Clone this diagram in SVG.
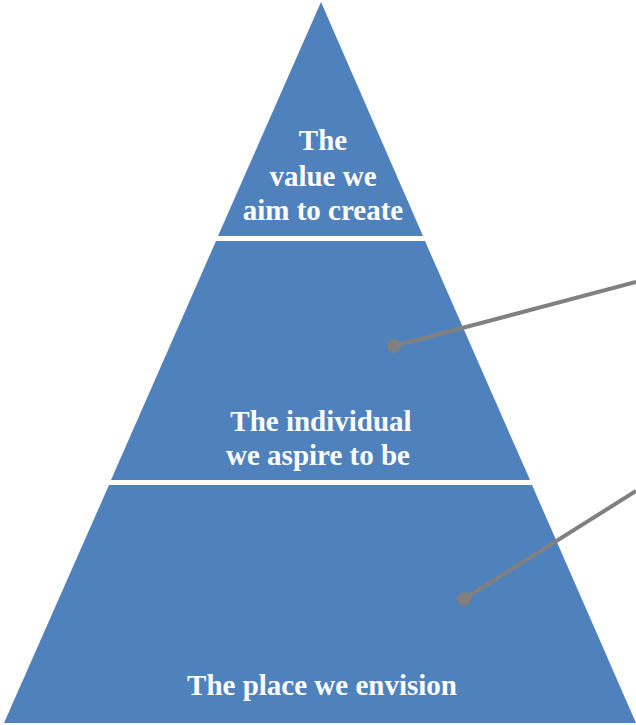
<svg xmlns="http://www.w3.org/2000/svg" width="636" height="725" viewBox="0 0 636 725">
<style>
.t{font-family:"Liberation Serif","Times New Roman",serif;font-weight:bold;font-size:29px;fill:#ffffff;text-anchor:middle}
.c{stroke:#808080;stroke-width:4;fill:none}
.d{fill:#808080}
</style>
<rect width="636" height="725" fill="#ffffff"/>
<g id="top">
<polygon points="321,2 423,236 218,236" fill="#4F81BD"/>
<text class="t" x="323" y="150">The</text>
<text class="t" x="323" y="186">value we</text>
<text class="t" x="323" y="220">aim to create</text>
</g>
<g id="middle">
<polygon points="216,241 425,241 530,480 111,480" fill="#4F81BD"/>
<text class="t" x="321" y="431">The individual</text>
<text class="t" x="318" y="465">we aspire to be</text>
</g>
<g id="bottom">
<polygon points="109,485 532,485 636,723 4,723" fill="#4F81BD"/>
<text class="t" x="322" y="695">The place we envision</text>
</g>
<g id="connectors">
<line class="c" x1="394" y1="346" x2="636" y2="282"/>
<circle class="d" cx="394" cy="346" r="7"/>
<line class="c" x1="464" y1="599" x2="636" y2="491"/>
<circle class="d" cx="464" cy="599" r="7"/>
</g>
</svg>
